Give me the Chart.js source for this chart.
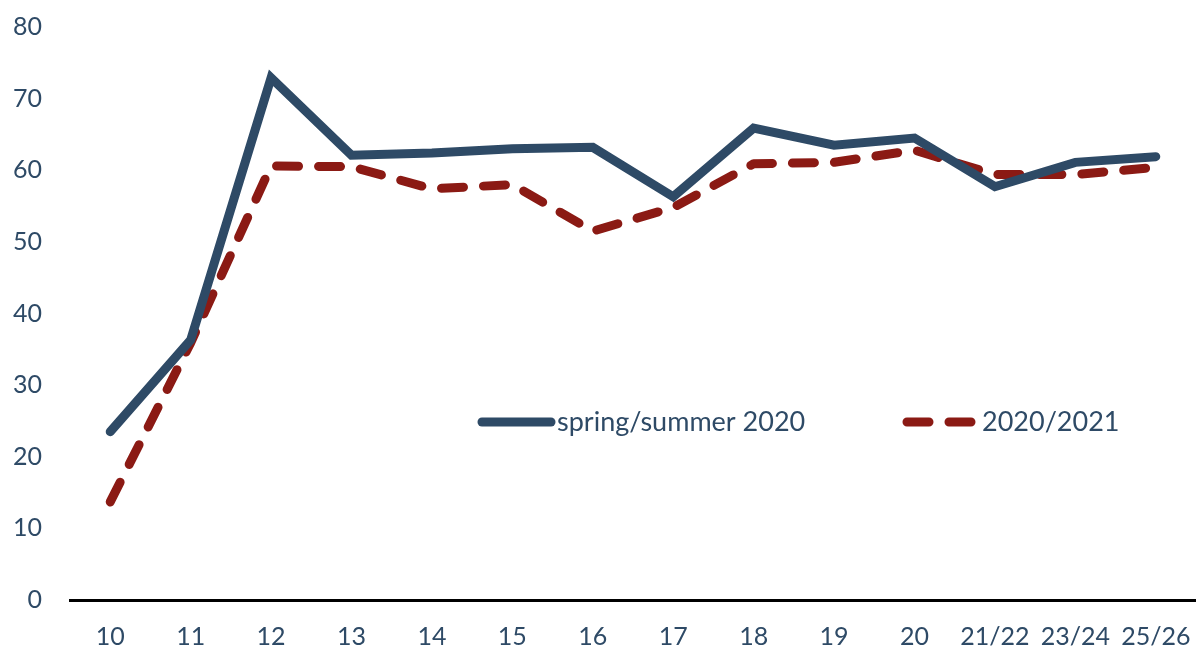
<!DOCTYPE html>
<html>
<head>
<meta charset="utf-8">
<script src="https://cdn.jsdelivr.net/npm/chart.js@4"></script>
<style>
  html, body { margin: 0; padding: 0; background: #fff; }
  #wrap { width: 1196px; height: 649px; position: relative; }
</style>
</head>
<body>
<div id="wrap"><canvas id="c" width="1196" height="649"></canvas></div>
<script>
const categories = ["10", "11", "12", "13", "14", "15", "16", "17", "18", "19", "20", "21/22", "23/24", "25/26"];
const springSummer2020 = [23.5, 36.3, 72.9, 62.1, 62.4, 63.0, 63.2, 56.3, 65.9, 63.5, 64.5, 57.7, 61.1, 61.9];
const season20202021 = [13.7, 35.9, 60.6, 60.5, 57.4, 58.0, 51.5, 54.8, 60.9, 61.1, 62.8, 59.4, 59.4, 60.4];
const seriesNames = ["spring/summer 2020", "2020/2021"];
const yTicks = [0, 10, 20, 30, 40, 50, 60, 70, 80];

const BLUE = "#2E4A66";
const RED = "#8B1A14";
const FONT = "Lato, 'Open Sans', sans-serif";

const legendPlugin = {
  id: "customLegend",
  afterDraw(chart) {
    const ctx = chart.ctx;
    ctx.save();
    ctx.lineCap = "round";
    ctx.lineWidth = 9;
    const y = 422;
    ctx.strokeStyle = BLUE;
    ctx.setLineDash([]);
    ctx.beginPath(); ctx.moveTo(482, y); ctx.lineTo(551, y); ctx.stroke();
    ctx.strokeStyle = RED;
    ctx.setLineDash([22, 20]);
    ctx.beginPath(); ctx.moveTo(907, y); ctx.lineTo(975, y); ctx.stroke();
    ctx.setLineDash([]);
    ctx.fillStyle = BLUE;
    ctx.font = "27px " + FONT;
    ctx.textBaseline = "middle";
    ctx.textAlign = "left";
    ctx.fillText(seriesNames[0], 557, y);
    ctx.fillText(seriesNames[1], 982, y);
    ctx.restore();
  }
};

new Chart(document.getElementById("c"), {
  type: "line",
  data: {
    labels: categories,
    datasets: [
      {
        label: seriesNames[0],
        data: springSummer2020,
        borderColor: BLUE,
        borderWidth: 9,
        borderCapStyle: "round",
        borderJoinStyle: "miter",
        pointRadius: 0,
        tension: 0,
        fill: false
      },
      {
        label: seriesNames[1],
        data: season20202021,
        borderColor: RED,
        borderWidth: 9,
        borderDash: [22, 20],
        borderCapStyle: "round",
        borderJoinStyle: "round",
        pointRadius: 0,
        tension: 0,
        fill: false
      }
    ]
  },
  options: {
    responsive: false,
    animation: false,
    devicePixelRatio: 1,
    layout: { padding: { top: 27, right: 0, left: 0, bottom: 0 } },
    plugins: { legend: { display: false }, tooltip: { enabled: false } },
    scales: {
      x: {
        offset: true,
        grid: { display: false, drawTicks: false },
        border: { display: true, color: "#000", width: 3 },
        ticks: { color: BLUE, font: { family: FONT, size: 25 }, padding: 22, maxRotation: 0, autoSkip: false },
        afterFit(scale) { scale.height = 49; scale.paddingLeft = 0; scale.paddingRight = 0; }
      },
      y: {
        min: 0, max: 80,
        grid: { display: false, drawTicks: false },
        border: { display: false },
        afterBuildTicks(scale) { scale.ticks = yTicks.map(v => ({ value: v })); },
        ticks: { color: BLUE, font: { family: FONT, size: 25 }, padding: 28 },
        afterFit(scale) { scale.width = 70; scale.paddingTop = 0; scale.paddingBottom = 0; }
      }
    }
  },
  plugins: [legendPlugin]
});
</script>
</body>
</html>
